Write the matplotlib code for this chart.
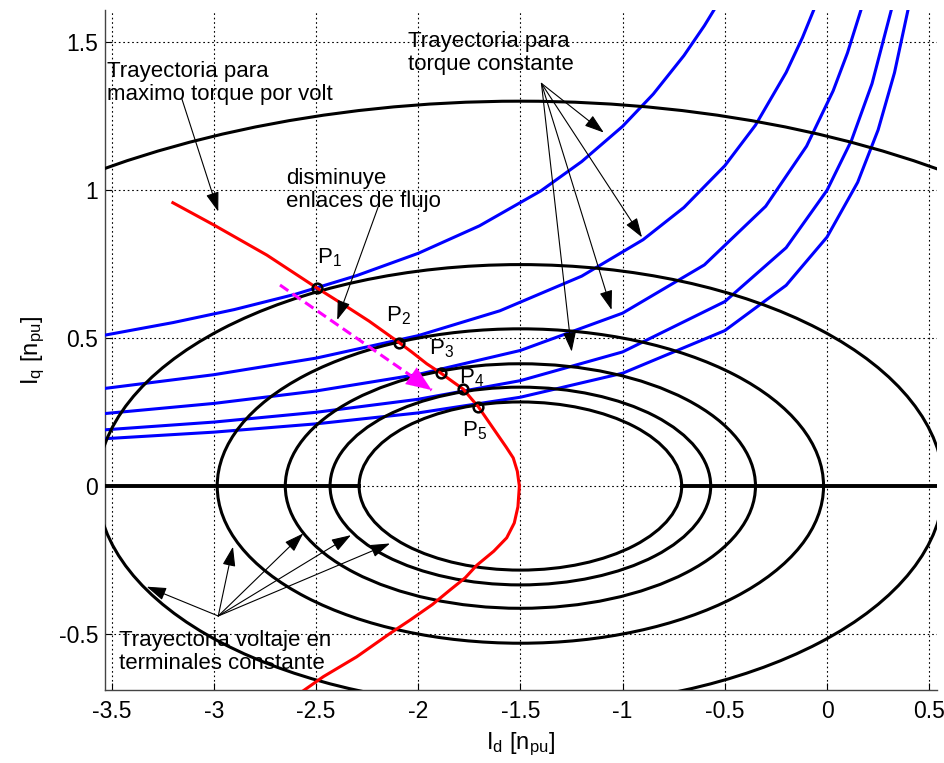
import matplotlib
matplotlib.use("Agg")
import matplotlib.pyplot as plt
from matplotlib.patches import Ellipse

plt.rcParams['font.family'] = ['Liberation Sans', 'DejaVu Sans']
plt.rcParams['mathtext.default'] = 'regular'
plt.rcParams['axes.unicode_minus'] = False

# ---- data -------------------------------------------------------------
# constant terminal-voltage ellipses, all centred on the d axis
ellipse_center = (-1.5, 0.0)
ellipse_semi_d = [0.789, 0.931, 1.150, 1.483, 2.070, 3.600]
ellipse_semi_q = [0.284, 0.334, 0.413, 0.531, 0.748, 1.300]

# constant-torque curves (id, iq)
torque_id = [
    [-3.53, -3.2, -2.9, -2.6, -2.3, -2.0, -1.7, -1.4, -1.2, -1.0, -0.85, -0.7, -0.6, -0.553],
    [-3.53, -3.0, -2.5, -2.0, -1.6, -1.2, -0.9, -0.7, -0.5, -0.35, -0.2, -0.12, -0.065],
    [-3.53, -3.0, -2.5, -2.0, -1.5, -1.0, -0.6, -0.3, -0.1, 0.03, 0.1, 0.166],
    [-3.53, -3.0, -2.5, -2.0, -1.5, -1.0, -0.5, -0.2, 0.0, 0.12, 0.22, 0.314],
    [-3.53, -3.0, -2.5, -2.0, -1.5, -1.0, -0.5, -0.2, 0.0, 0.15, 0.25, 0.33, 0.396],
]
torque_iq = [
    [0.510, 0.552, 0.596, 0.648, 0.711, 0.786, 0.879, 0.997, 1.096, 1.215, 1.324, 1.454, 1.555, 1.608],
    [0.330, 0.376, 0.432, 0.508, 0.592, 0.709, 0.832, 0.941, 1.082, 1.219, 1.397, 1.515, 1.608],
    [0.245, 0.279, 0.321, 0.377, 0.458, 0.584, 0.747, 0.945, 1.148, 1.335, 1.463, 1.608],
    [0.190, 0.216, 0.249, 0.293, 0.356, 0.453, 0.623, 0.805, 0.999, 1.168, 1.359, 1.607],
    [0.160, 0.182, 0.210, 0.247, 0.300, 0.381, 0.525, 0.678, 0.841, 1.026, 1.203, 1.396, 1.608],
]

# maximum torque per volt trajectory
mtpv_id = [-3.20, -3.00, -2.74, -2.493, -2.35, -2.24, -2.092, -2.030, -1.958, -1.888,
           -1.828, -1.779, -1.740, -1.706, -1.66, -1.616, -1.57, -1.535, -1.515, -1.505,
           -1.512, -1.530, -1.567, -1.63, -1.714, -1.77, -1.844, -1.93, -2.04, -2.138,
           -2.301, -2.464, -2.60]
mtpv_iq = [0.957, 0.882, 0.780, 0.668, 0.606, 0.557, 0.484, 0.452, 0.413, 0.381,
           0.351, 0.327, 0.295, 0.268, 0.222, 0.178, 0.132, 0.095, 0.05, 0.0,
           -0.07, -0.125, -0.175, -0.22, -0.268, -0.31, -0.351, -0.40, -0.453, -0.498,
           -0.577, -0.644, -0.71]

# operating points P1..P5
op_id = [-2.493, -2.092, -1.888, -1.779, -1.706]
op_iq = [0.668, 0.484, 0.381, 0.327, 0.268]
op_names = ['P$_1$', 'P$_2$', 'P$_3$', 'P$_4$', 'P$_5$']
op_label_xy = [(-2.497, 0.753), (-2.158, 0.555), (-1.947, 0.443), (-1.800, 0.348), (-1.786, 0.166)]

# flux-weakening direction
flux_arrow_start = (-2.676, 0.679)
flux_arrow_end = (-1.934, 0.324)

x_ticks = [-3.5, -3.0, -2.5, -2.0, -1.5, -1.0, -0.5, 0.0, 0.5]
x_tick_labels = ['-3.5', '-3', '-2.5', '-2', '-1.5', '-1', '-0.5', '0', '0.5']
y_ticks = [-0.5, 0.0, 0.5, 1.0, 1.5]
y_tick_labels = ['-0.5', '0', '0.5', '1', '1.5']
x_limits = (-3.532, 0.538)
y_limits = (-0.689, 1.608)

# ---- figure -----------------------------------------------------------
fig = plt.figure(figsize=(9.45, 7.63), dpi=100)
ax = fig.add_axes([105 / 945, 73 / 763, 832 / 945, 680 / 763])
ax.set_xlim(*x_limits)
ax.set_ylim(*y_limits)

LW = 2.2
for ids, iqs in zip(torque_id, torque_iq):
    ax.plot(ids, iqs, color='#0000FF', lw=LW, zorder=3)

for a, b in zip(ellipse_semi_d, ellipse_semi_q):
    ax.add_patch(Ellipse(ellipse_center, 2 * a, 2 * b, facecolor='none',
                         edgecolor='k', lw=LW, zorder=4))

# the d axis drawn outside the smallest ellipse
inner_left = ellipse_center[0] - ellipse_semi_d[0]
inner_right = ellipse_center[0] + ellipse_semi_d[0]
ax.plot([x_limits[0], inner_left], [0, 0], color='k', lw=LW + 0.6, zorder=4)
ax.plot([inner_right, x_limits[1]], [0, 0], color='k', lw=LW + 0.6, zorder=4)

ax.plot(mtpv_id, mtpv_iq, color='#FF0000', lw=LW, zorder=5)

# dashed magenta arrow
ax.plot([flux_arrow_start[0], flux_arrow_end[0]], [flux_arrow_start[1], flux_arrow_end[1]],
        color='#FF00FF', lw=LW, ls=(0, (3.3, 1.7)), zorder=6)
hx = flux_arrow_start[0] + 0.85 * (flux_arrow_end[0] - flux_arrow_start[0])
hy = flux_arrow_start[1] + 0.85 * (flux_arrow_end[1] - flux_arrow_start[1])
ax.annotate('', xy=flux_arrow_end, xytext=(hx, hy),
            arrowprops=dict(arrowstyle='-|>,head_length=0.9,head_width=0.36',
                            mutation_scale=20, color='#FF00FF', lw=0.1,
                            shrinkA=0, shrinkB=0), zorder=6)

ax.plot(op_id, op_iq, ls='none', marker='o', ms=7, mfc='none', mec='k', mew=1.8, zorder=7)
for name, (lx, ly) in zip(op_names, op_label_xy):
    ax.text(lx, ly, name, fontsize=16, ha='left', va='baseline', zorder=8)

# ---- annotations ------------------------------------------------------
arrow_kw = dict(arrowstyle='-|>,head_length=0.6,head_width=0.2', mutation_scale=20,
                color='k', lw=0.8, shrinkA=0, shrinkB=0)


def callout(text, last_baseline_xy, origin, targets):
    # the y position is the baseline of the last text line
    ax.text(last_baseline_xy[0], last_baseline_xy[1], text, fontsize=16, ha='left',
            va='baseline', linespacing=1.12, zorder=9)
    for t in targets:
        ax.annotate('', xy=t, xytext=origin, arrowprops=arrow_kw, zorder=9)


callout('Trayectoria para\nmaximo torque por volt', (-3.522, 1.304),
        (-3.157, 1.310), [(-2.978, 0.927)])
callout('disminuye\nenlaces de flujo', (-2.647, 0.944),
        (-2.195, 0.944), [(-2.396, 0.561)])
callout('Trayectoria para\ntorque constante', (-2.049, 1.405),
        (-1.397, 1.360), [(-1.092, 1.194), (-0.905, 0.840), (-1.054, 0.595), (-1.249, 0.454)])
callout('Trayectoria voltaje en\nterminales constante', (-3.462, -0.619),
        (-2.978, -0.439), [(-3.328, -0.340), (-2.906, -0.205), (-2.562, -0.160),
                           (-2.329, -0.166), (-2.138, -0.194)])

# ---- axes styling -----------------------------------------------------
ax.set_xticks(x_ticks)
ax.set_xticklabels(x_tick_labels)
ax.set_yticks(y_ticks)
ax.set_yticklabels(y_tick_labels)
ax.tick_params(direction='in', length=5, width=0.8, labelsize=16.5, colors='k')
ax.tick_params(axis='x', pad=7)
ax.tick_params(axis='y', pad=5)
ax.grid(True, color='k', lw=0.8, ls=(0, (1.5, 2.5)))
ax.set_axisbelow(True)
for side in ('top', 'right'):
    ax.spines[side].set_visible(False)
for side in ('left', 'bottom'):
    ax.spines[side].set_color('#444444')
    ax.spines[side].set_linewidth(1.0)

ax.set_xlabel('I$_d$ [n$_{pu}$]', fontsize=17, labelpad=6)
ax.set_ylabel('I$_q$ [n$_{pu}$]', fontsize=17, labelpad=8)

fig.savefig('out.png', dpi=100)
